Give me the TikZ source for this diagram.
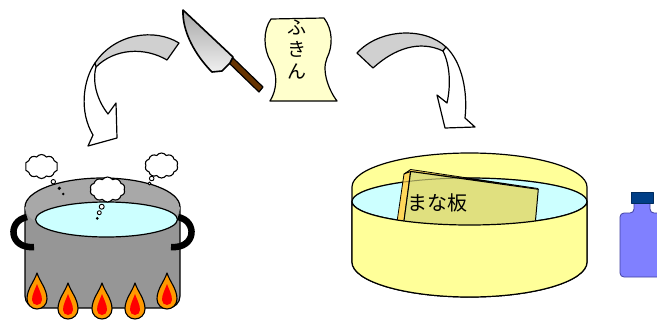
\documentclass[tikz,border=0pt]{standalone}
\usepackage{fontspec}
\newfontfamily\jpfont{Noto Sans CJK JP}
\usetikzlibrary{shapes.symbols}
\definecolor{potgray}{HTML}{969696}
\definecolor{rimgray}{HTML}{A8A8A8}
\definecolor{water}{HTML}{CCFFFF}
\definecolor{dishyellow}{HTML}{FFFF99}
\definecolor{paper}{HTML}{FFFFCC}
\definecolor{bandgray}{HTML}{D0D0D0}
\definecolor{flameorange}{HTML}{FF9900}
\definecolor{flamered}{HTML}{FF0000}
\definecolor{boardface}{HTML}{E0E07F}
\definecolor{boardside}{HTML}{FFD85A}
\definecolor{bottleblue}{HTML}{8080FF}
\definecolor{bottleedge}{HTML}{4040A0}
\definecolor{capblue}{HTML}{003F87}
\definecolor{handlebrown}{HTML}{663300}

\begin{document}
\begin{tikzpicture}[x=1pt,y=-1pt,line join=round,
  outline/.style={draw=black,line width=1.2pt},
  steam/.style={cloud,cloud puffs=10,cloud puff arc=110,cloud ignores aspect,
    draw=black,line width=1.1pt,fill=white,inner sep=0pt},
  bubble/.style={draw=black,line width=0.9pt,fill=white},
  flame/.pic={
    \path[draw=black,line width=1.1pt,fill=flameorange]
      (0,-20) .. controls (3,-11) and (10,-4) .. (10,6)
      arc[start angle=0,end angle=180,radius=10]
      .. controls (-10,-4) and (-3,-11) .. cycle;
    \path[fill=flamered]
      (0,-9) .. controls (2,-3) and (5,1) .. (5,7)
      arc[start angle=0,end angle=180,radius=5]
      .. controls (-5,1) and (-2,-3) .. cycle;
  }]

\useasboundingbox (0,0) rectangle (657,322);
\fill[white] (0,0) rectangle (657,322);

% ---- curved arrow towards the pot
\path[outline,fill=bandgray] (95,63) .. controls (115,33) and (155,28) .. (179,43)
  -- (167,60) .. controls (145,47) and (115,48) .. (96,67) -- cycle;
\path[outline,fill=white] (95,63) .. controls (83,80) and (79,112) .. (93,135)
  -- (88,146) -- (117,138) -- (116,103) -- (108,114)
  .. controls (97,100) and (92,82) .. (96,67) -- cycle;

% ---- curved arrow towards the dish
\path[outline,fill=bandgray] (357,53) .. controls (380,28) and (425,27) .. (446,47)
  -- (443,51) .. controls (420,40) and (395,48) .. (373,68) -- cycle;
\path[outline,fill=white] (446,47) .. controls (462,62) and (468,92) .. (465,118)
  -- (475,127) -- (445,128) -- (437,95) -- (447,103)
  .. controls (451,85) and (450,65) .. (443,51) -- cycle;

% ---- knife
\path[draw=black,line width=1.2pt,fill=handlebrown]
  (232,57) -- (263,87) -- (259,92) -- (228,62) -- cycle;
\shade[draw=black,line width=1.6pt,shading angle=-45,top color=gray!70,bottom color=gray!12]
  (183,10) -- (233,57) -- (230,63) -- (222,71) -- (212,72)
  .. controls (196,56) and (182,32) .. cycle;

% ---- cloth scroll
\path[outline,fill=paper] (271,19) -- (324,18)
  .. controls (333,30) and (333,46) .. (327,58)
  .. controls (321,72) and (330,92) .. (337,101) -- (270,101)
  .. controls (277,90) and (278,74) .. (271,62)
  .. controls (263,49) and (263,30) .. cycle;
\node[font=\jpfont\fontsize{19}{22}\selectfont,align=center,inner sep=0pt]
  (fukin) at (297,50) {ふ\\き\\ん};

% ---- pot
\path[outline,fill=potgray] (25,207) -- (25,296)
  arc[start angle=180,end angle=90,radius=12] -- (168,308)
  arc[start angle=90,end angle=0,radius=12] -- (180,207);
\fill[rimgray] (102.5,207) ellipse[x radius=77.5,y radius=29];
\draw[outline] (25,207) arc[start angle=180,end angle=360,x radius=77.5,y radius=29];
\path[outline,fill=water] (106.5,219.5) ellipse[x radius=71,y radius=17.5];
\draw[line width=6.5pt,line cap=butt] (27,217) .. controls (7,221) and (9,249) .. (34,247);
\draw[line width=6.5pt,line cap=butt] (178,217) .. controls (198,221) and (196,249) .. (171,247);

% steam and bubbles
\node[steam,minimum width=33pt,minimum height=24pt] (steamL) at (41.5,166.5) {};
\node[steam,minimum width=35pt,minimum height=25pt] (steamC) at (107.5,189.5) {};
\node[steam,minimum width=33pt,minimum height=25pt] (steamR) at (161.5,165.5) {};
\draw[bubble] (53.3,181.7) circle[radius=2.2];
\fill (59.3,188.3) circle[radius=1.8];
\fill (63.3,194) circle[radius=1.4];
\draw[bubble] (101.7,206.7) circle[radius=2.5];
\draw[bubble] (99.3,212.7) circle[radius=2];
\fill (97.3,218.3) circle[radius=1.5];
\draw[bubble] (151.7,178.5) circle[radius=2.3];
\draw[bubble] (149.5,183.5) circle[radius=1.5];

% flames
\pic at (37,293) {flame};
\pic at (68,303) {flame};
\pic at (102,303) {flame};
\pic at (135,303) {flame};
\pic at (167,293) {flame};

% ---- dish with water and cutting board
\path[outline,fill=dishyellow] (352,187)
  arc[start angle=180,end angle=360,x radius=117.5,y radius=34] -- (587,262)
  arc[start angle=0,end angle=180,x radius=117.5,y radius=35] -- cycle;
\path[outline,fill=water] (469.5,201.5) ellipse[x radius=117.5,y radius=23.5];
\path[draw=black,line width=0.8pt,fill=boardside]
  (396.7,224) -- (404,174) -- (410.7,170) -- (403.3,226) -- cycle;
\path[draw=black,line width=0.8pt,fill=boardside]
  (404,174) -- (410.7,169.5) -- (538,188.5) -- (410.7,171.5) -- cycle;
\path[draw=black,line width=1pt,fill=boardface]
  (410.7,171.5) -- (538.3,189.3) -- (535,226) -- (403.3,226) -- cycle;
\draw[black,opacity=0.35,line width=1pt] (352,201.5)
  arc[start angle=180,end angle=360,x radius=117.5,y radius=23.5];
\path[outline,fill=dishyellow] (352,201.5)
  arc[start angle=180,end angle=0,x radius=117.5,y radius=23.5] -- (587,262)
  arc[start angle=0,end angle=180,x radius=117.5,y radius=35] -- cycle;
\node[font=\jpfont\fontsize{20}{24}\selectfont,inner sep=0pt] (board) at (437.5,203) {まな板};

% ---- bottle
\path[fill=bottleblue,draw=bottleedge,line width=0.8pt,rounded corners=4]
  (634,203) -- (634,213) -- (620,213) -- (620,277) -- (664,277) -- (664,213) -- (650,213) -- (650,203);
\path[fill=capblue,draw=capblue!70!black,line width=0.5pt] (631,192) rectangle (653,203);
\end{tikzpicture}
\end{document}
